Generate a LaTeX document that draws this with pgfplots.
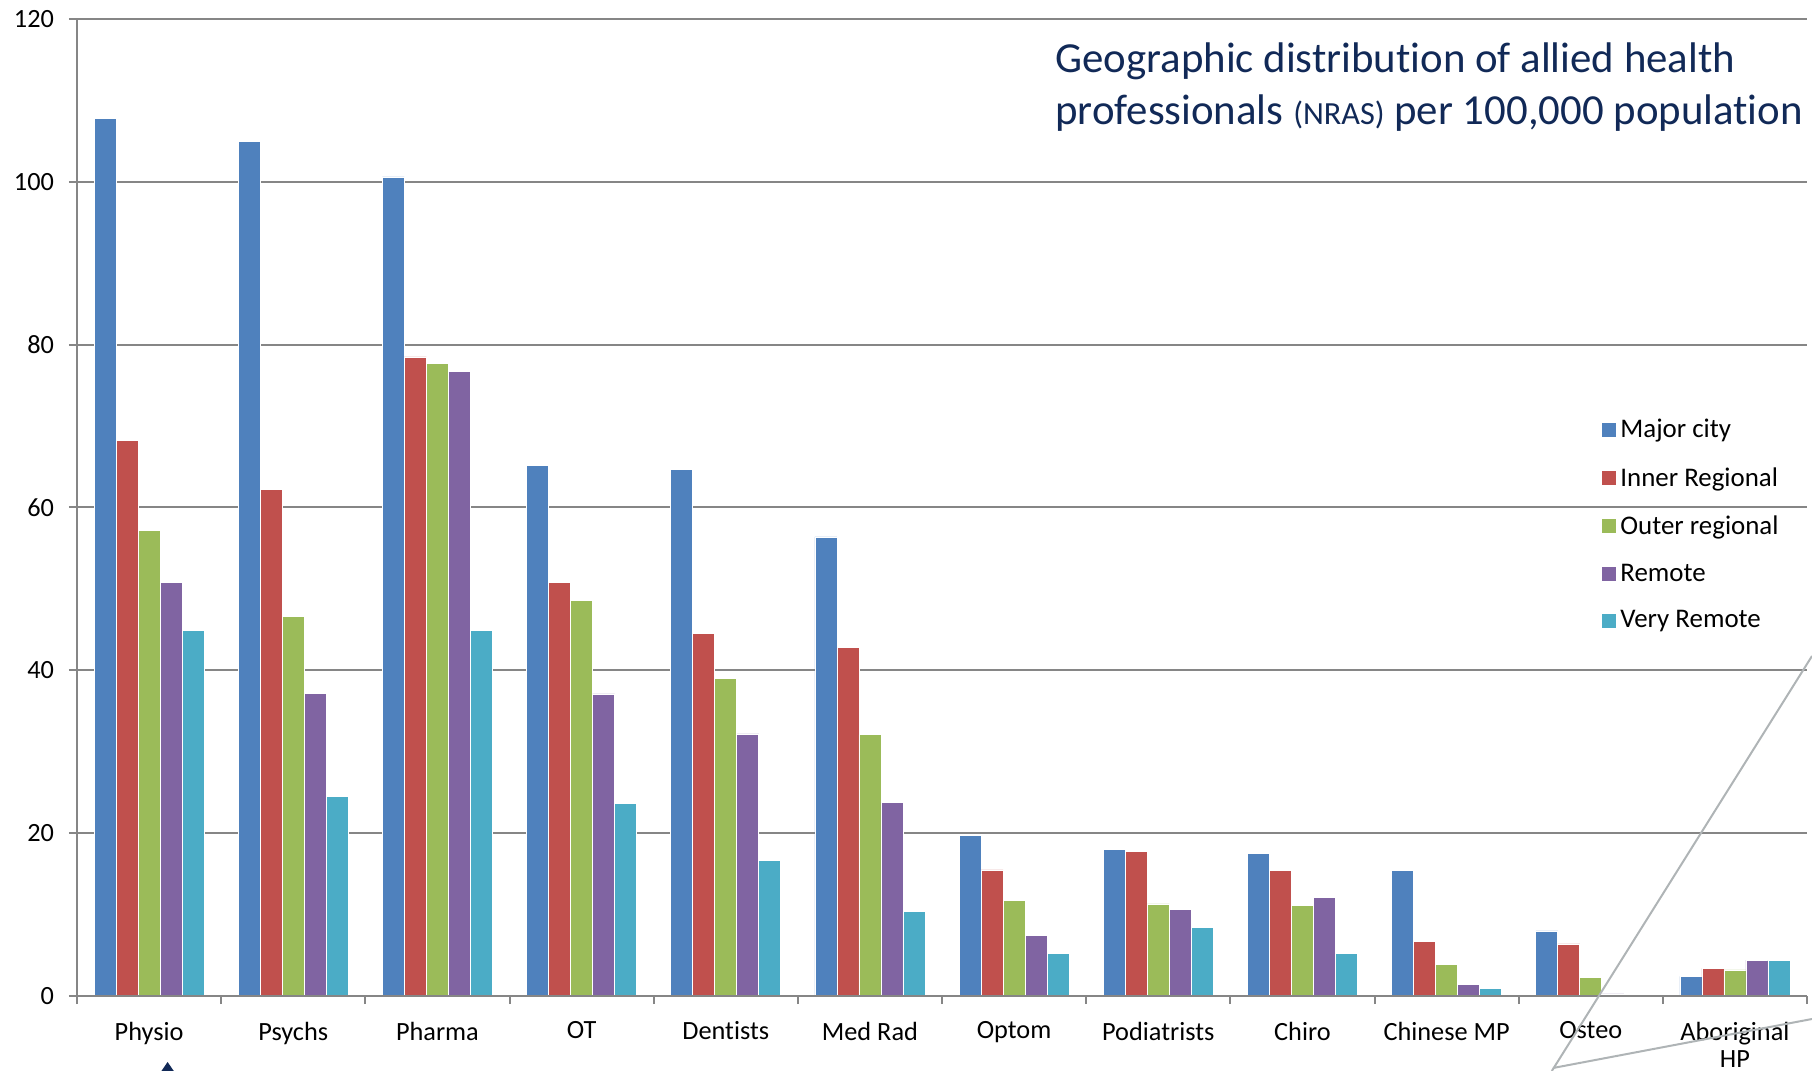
\documentclass[border=0pt]{standalone}
\usepackage{pgfplots}
\usepackage{pgfplotstable}
\pgfplotsset{compat=1.18}
\usepackage{fontspec}
\setmainfont{Carlito}[Ligatures=NoCommon]
\definecolor{cBlue}{HTML}{4F81BD}
\definecolor{cRed}{HTML}{C0504D}
\definecolor{cGreen}{HTML}{9BBB59}
\definecolor{cPurple}{HTML}{8064A2}
\definecolor{cTeal}{HTML}{4BACC6}
\definecolor{navy}{RGB}{17,41,87}
\definecolor{gridgray}{RGB}{134,134,134}
\definecolor{decogray}{RGB}{175,180,182}

\pgfplotstableread{
x major inner outer remote vremote
0  107.8 68.2 57.2 50.8 44.9
1  105.0 62.2 46.6 37.2 24.5
2  100.6 78.5 77.7 76.7 44.9
3  65.2  50.8 48.6 37.1 23.7
4  64.7  44.5 39.0 32.2 16.7
5  56.4  42.8 32.1 23.8 10.4
6  19.7  15.5 11.7 7.4  5.2
7  18.0  17.8 11.3 10.6 8.4
8  17.5  15.4 11.1 12.1 5.2
9  15.4  6.7  3.9  1.4  0.9
10 8.0   6.4  2.3  0.25 0.0
11 2.4   3.4  3.2  4.4  4.4
}\datatable

\begin{document}
\begin{tikzpicture}
\begin{axis}[
  at={(0,0)}, anchor=south west,
  scale only axis, width=865bp, height=488.5bp,
  xmin=-0.5, xmax=11.5, ymin=0, ymax=120,
  ytick={0,20,...,120},
  xtick={-0.5,0.5,...,11.5},
  x tick label as interval,
  xticklabels={Physio,Psychs,Pharma,OT,Dentists,Med Rad,Optom,Podiatrists,Chiro,Chinese MP,Osteo,{Aboriginal\\HP}},
  xticklabel style={align=center, font=\fontsize{13.2}{13.6}\selectfont, inner sep=1bp, yshift=-7.7bp},
  yticklabel style={font=\fontsize{13.2}{15}\selectfont, xshift=-4bp},
  /pgf/number format/assume math mode=true,
  tick align=outside,
  major tick length=4bp,
  tick style={gridgray, line width=1bp},
  axis x line*=bottom, axis y line*=left,
  axis line style={gridgray, line width=1bp, -},
  ymajorgrids, grid style={gridgray, line width=1bp},
  ybar=0pt, bar width=0.1526,
  every axis plot/.append style={draw=white, line width=0.3bp},
  legend style={draw=none, fill=none, at={(0.8815,0.5947)}, anchor=north west,
    font=\fontsize{13.5}{15}\selectfont, row sep=9.3bp, inner sep=0pt},
  legend cell align=left,
  legend image code/.code={\path[#1, draw=none] (0bp,-3.5bp) rectangle (7bp,3.5bp);},
]
\addplot[fill=cBlue] table[x=x, y=major] {\datatable};
\addplot[fill=cRed] table[x=x, y=inner] {\datatable};
\addplot[fill=cGreen] table[x=x, y=outer] {\datatable};
\addplot[fill=cPurple] table[x=x, y=remote] {\datatable};
\addplot[fill=cTeal] table[x=x, y=vremote] {\datatable};
\legend{Major city, Inner Regional, Outer regional, Remote, Very Remote}
\end{axis}
\draw[gridgray, line width=1bp] (0,0) -- (865bp,0);
\node[anchor=base west, text=navy, inner sep=0pt, font=\fontsize{21.5}{26}\selectfont] at (489bp,461.5bp) {Geographic distribution of allied health};
\node[anchor=base west, text=navy, inner sep=0pt, font=\fontsize{21.5}{26}\selectfont] at (489bp,435.5bp) {professionals {\fontsize{16.2}{18}\selectfont(NRAS)} per 100,000 population};
\draw[decogray, line width=1bp] (867.5bp,170bp) -- (737.4bp,-37.5bp);
\draw[decogray, line width=1bp] (738bp,-36bp) -- (867.5bp,-11.5bp);
\fill[navy] (45.3bp,-33bp) -- (40.5bp,-40bp) -- (50.1bp,-40bp) -- cycle;
\pgfresetboundingbox
\useasboundingbox (-38.5bp,-37.5bp) rectangle (867.5bp,498bp);
\end{tikzpicture}
\end{document}
